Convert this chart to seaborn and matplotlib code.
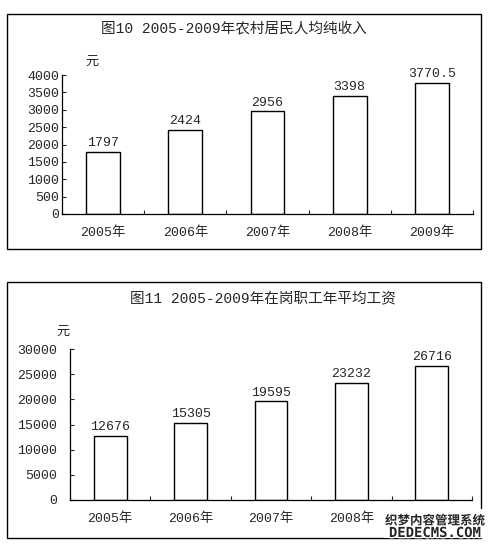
import matplotlib
matplotlib.use("Agg")
import numpy as np
import pandas as pd
import seaborn as sns
import matplotlib.pyplot as plt
import matplotlib.patheffects as pe
from matplotlib.patches import Rectangle
from matplotlib.ticker import MultipleLocator, FixedLocator

sns.set_style("white")
plt.rcParams['font.family'] = ['Liberation Mono', 'Noto Sans CJK SC', 'DejaVu Sans']

years = ["2005年", "2006年", "2007年", "2008年", "2009年"]
income = [1797, 2424, 2956, 3398, 3770.5]
income_labels = ["1797", "2424", "2956", "3398", "3770.5"]
wage = [12676, 15305, 19595, 23232, 26716]
wage_labels = ["12676", "15305", "19595", "23232", "26716"]

W, H = 495, 547
fig = plt.figure(figsize=(W / 100, H / 100), dpi=100)


def px_axes(left, right, top, bottom):
    return fig.add_axes([left / W, 1 - bottom / H, (right - left) / W, (bottom - top) / H])


def px_rect(x0, x1, y0, y1, **kw):
    r = Rectangle((x0 / W, 1 - y1 / H), (x1 - x0) / W, (y1 - y0) / H,
                  transform=fig.transFigure, **kw)
    fig.patches.append(r)
    return r


def draw(ax, vals, labels, ymax, step, ypad):
    df = pd.DataFrame({"year": years, "value": vals})
    sns.barplot(data=df, x="year", y="value", color="white", edgecolor="black",
                linewidth=1.0, width=0.41, saturation=1, ax=ax)
    ax.bar_label(ax.containers[0], labels=labels, padding=2, fontsize=9.5)
    ax.set_xlim(-0.5, 4.5)
    ax.set_ylim(0, ymax)
    ax.yaxis.set_major_locator(MultipleLocator(step))
    ax.xaxis.set_minor_locator(FixedLocator(np.arange(-0.5, 5, 1)))
    ax.tick_params(axis="x", which="major", length=0, pad=9, labelsize=9.5)
    ax.tick_params(axis="x", which="minor", length=3, direction="in", width=0.8, bottom=True)
    ax.tick_params(axis="y", length=3, direction="in", width=0.8, pad=ypad, labelsize=9.5, left=True)
    ax.set_xlabel("")
    ax.set_ylabel("")
    for s in ["top", "right"]:
        ax.spines[s].set_visible(False)
    for s in ["left", "bottom"]:
        ax.spines[s].set_color("black")
        ax.spines[s].set_linewidth(0.9)
    ax.set_facecolor("none")


# panel 1
px_rect(7, 481, 14, 249, fill=False, edgecolor="black", linewidth=1.0)
ax1 = px_axes(62, 473, 75, 214)
draw(ax1, income, income_labels, 4000, 500, 2)
fig.text(234 / W, 1 - 28 / H, "图10 2005-2009年农村居民人均纯收入", ha="center", va="center", fontsize=10.5)
fig.text(92 / W, 1 - 62 / H, "元", ha="center", va="center", fontsize=9.5)

# panel 2
px_rect(7, 481, 282, 538, fill=False, edgecolor="black", linewidth=1.0)
ax2 = px_axes(70, 472, 349, 500)
draw(ax2, wage, wage_labels, 30000, 5000, 9)
fig.text(263 / W, 1 - 298 / H, "图11 2005-2009年在岗职工年平均工资", ha="center", va="center", fontsize=10.5)
fig.text(63 / W, 1 - 332 / H, "元", ha="center", va="center", fontsize=9.5)

# watermark pasted over the bottom-right corner, hiding the last tick label
px_rect(384, 486, 509, 538, facecolor="white", edgecolor="none", zorder=5)
halo = [pe.withStroke(linewidth=2, foreground="white")]
fig.text(435 / W, 1 - 521 / H, "织梦内容管理系统", ha="center", va="center",
         fontsize=9, fontweight="bold", family=["Noto Sans CJK SC"],
         path_effects=halo, zorder=6)
fig.text(435 / W, 1 - 533 / H, "DEDECMS.COM", ha="center", va="center",
         fontsize=10, fontweight="bold", family=["DejaVu Sans Mono"],
         path_effects=halo, zorder=6)

fig.savefig("out.png", dpi=100)
